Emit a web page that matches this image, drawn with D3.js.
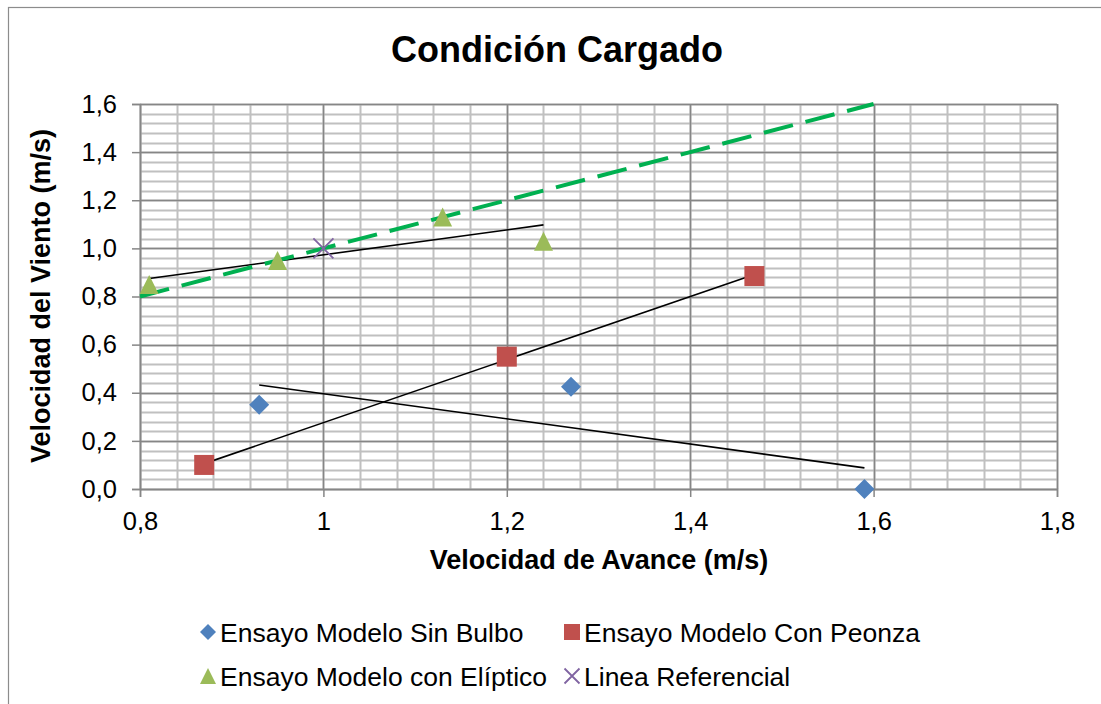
<!DOCTYPE html>
<html>
<head>
<meta charset="utf-8">
<script src="https://cdn.jsdelivr.net/npm/d3@7"></script>
<style>
  body { margin: 0; background: #fff; }
  text { font-family: "Liberation Sans", Arial, sans-serif; }
</style>
</head>
<body>
<svg id="chart" width="1101" height="704"></svg>
<script>
'use strict';

// data
var sinBulboX = [ 0.93, 1.27, 1.59 ],
    sinBulboY = [ 0.35, 0.425, 0.0 ];
var peonzaX = [ 0.87, 1.20, 1.47 ],
    peonzaY = [ 0.10, 0.55, 0.885 ];
var elipticoX = [ 0.81, 0.95, 1.13, 1.24 ],
    elipticoY = [ 0.85, 0.95, 1.13, 1.03 ];
var referenciaX = [ 1.0 ],
    referenciaY = [ 1.0 ];
var lineaIdealX = [ 0.8, 1.6 ],
    lineaIdealY = [ 0.8, 1.6 ];

var xTicks = [ 0.8, 1.0, 1.2, 1.4, 1.6, 1.8 ],
    yTicks = [ 0.0, 0.2, 0.4, 0.6, 0.8, 1.0, 1.2, 1.4, 1.6 ];

var series = [
    { name: 'Ensayo Modelo Sin Bulbo', xs: sinBulboX, ys: sinBulboY, shape: 'diamond', color: '#4f81bd' },
    { name: 'Ensayo Modelo Con Peonza', xs: peonzaX, ys: peonzaY, shape: 'square', color: '#c0504d' },
    { name: 'Ensayo Modelo con Elíptico', xs: elipticoX, ys: elipticoY, shape: 'triangle', color: '#9bbb59' },
    { name: 'Linea Referencial', xs: referenciaX, ys: referenciaY, shape: 'cross', color: '#8064a2' }
];

(function(){
    var svg = d3.select( '#chart' ),
        pLeft = 140, pRight = 1057, pTop = 104, pBottom = 489;

    var x = d3.scaleLinear().domain( [ 0.8, 1.8 ] ).range( [ pLeft, pRight ] ),
        y = d3.scaleLinear().domain( [ 0, 1.6 ] ).range( [ pBottom, pTop ] );

    // outer frame
    svg.append( 'rect' )
        .attr( 'x', 8.5 ).attr( 'y', 7.5 )
        .attr( 'width', 1100 ).attr( 'height', 710 )
        .attr( 'fill', 'none' ).attr( 'stroke', '#8c8c8c' ).attr( 'stroke-width', 1.2 );

    // grid
    var grid = svg.append( 'g' );
    var minorX = d3.range( 0.8, 1.8001, 0.04 ),
        minorY = d3.range( 0, 1.6001, 0.04 );

    grid.selectAll( 'line.mx' ).data( minorX ).enter().append( 'line' )
        .attr( 'x1', d => Math.round( x( d ) ) + 0.5 ).attr( 'x2', d => Math.round( x( d ) ) + 0.5 )
        .attr( 'y1', pTop ).attr( 'y2', pBottom )
        .attr( 'stroke', '#c0c0c0' ).attr( 'stroke-width', 2 );
    grid.selectAll( 'line.my' ).data( minorY ).enter().append( 'line' )
        .attr( 'y1', d => Math.round( y( d ) ) + 0.5 ).attr( 'y2', d => Math.round( y( d ) ) + 0.5 )
        .attr( 'x1', pLeft ).attr( 'x2', pRight )
        .attr( 'stroke', '#c0c0c0' ).attr( 'stroke-width', 2 );
    grid.selectAll( 'line.Mx' ).data( xTicks ).enter().append( 'line' )
        .attr( 'x1', d => Math.round( x( d ) ) + 0.5 ).attr( 'x2', d => Math.round( x( d ) ) + 0.5 )
        .attr( 'y1', pTop ).attr( 'y2', pBottom )
        .attr( 'stroke', '#868686' ).attr( 'stroke-width', 1.5 );
    grid.selectAll( 'line.My' ).data( yTicks ).enter().append( 'line' )
        .attr( 'y1', d => Math.round( y( d ) ) + 0.5 ).attr( 'y2', d => Math.round( y( d ) ) + 0.5 )
        .attr( 'x1', pLeft ).attr( 'x2', pRight )
        .attr( 'stroke', '#868686' ).attr( 'stroke-width', 1.5 );

    // axes
    var fmt1 = d => d3.format( '.1f' )( d ).replace( '.', ',' ),
        fmtX = d => d === 1 ? '1' : fmt1( d );

    var xAxis = svg.append( 'g' )
        .attr( 'transform', 'translate(0,' + pBottom + ')' )
        .call( d3.axisBottom( x ).tickValues( xTicks ).tickSize( 8 ).tickPadding( 15 ).tickFormat( fmtX ) );
    var yAxis = svg.append( 'g' )
        .attr( 'transform', 'translate(' + pLeft + ',0)' )
        .call( d3.axisLeft( y ).tickValues( yTicks ).tickSize( 8 ).tickPadding( 15 ).tickFormat( fmt1 ) );

    [ xAxis, yAxis ].forEach( function( a ){
        a.attr( 'font-size', null ).attr( 'font-family', null );
        a.selectAll( 'path,line' ).attr( 'stroke', '#868686' ).attr( 'stroke-width', 1.5 );
        a.selectAll( 'text' ).attr( 'fill', '#000' )
            .style( 'font-size', '25.5px' )
            .style( 'font-family', '"Liberation Sans", Arial, sans-serif' );
    });

    // trend lines (least squares of each series)
    function trend( xs, ys ){
        var mx = d3.mean( xs ), my = d3.mean( ys ),
            sxy = d3.sum( xs, ( v, i ) => ( v - mx ) * ( ys[i] - my ) ),
            sxx = d3.sum( xs, v => ( v - mx ) * ( v - mx ) ),
            m = sxy / sxx, b = my - m * mx,
            x0 = d3.min( xs ), x1 = d3.max( xs );
        return [ [ x0, m * x0 + b ], [ x1, m * x1 + b ] ];
    }

    var line = d3.line().x( d => x( d[0] ) ).y( d => y( d[1] ) );

    series.slice( 0, 3 ).forEach( function( s ){
        svg.append( 'path' )
            .attr( 'd', line( trend( s.xs, s.ys ) ) )
            .attr( 'fill', 'none' ).attr( 'stroke', '#000' ).attr( 'stroke-width', 1.6 );
    });

    // y = x dashed line
    svg.append( 'path' )
        .attr( 'd', line( d3.zip( lineaIdealX, lineaIdealY ) ) )
        .attr( 'fill', 'none' ).attr( 'stroke', '#00b050' )
        .attr( 'stroke-width', 4 ).attr( 'stroke-dasharray', '30,13' );

    // markers
    function marker( g, shape, color, size ){
        var h = size / 2;
        if ( shape === 'diamond' ){
            g.append( 'path' ).attr( 'd', 'M0,' + ( -h ) + 'L' + h + ',0L0,' + h + 'L' + ( -h ) + ',0Z' ).attr( 'fill', color );
        } else if ( shape === 'square' ){
            g.append( 'rect' ).attr( 'x', -h ).attr( 'y', -h ).attr( 'width', size ).attr( 'height', size ).attr( 'fill', color );
        } else if ( shape === 'triangle' ){
            g.append( 'path' ).attr( 'd', 'M0,' + ( -h ) + 'L' + h + ',' + h + 'L' + ( -h ) + ',' + h + 'Z' ).attr( 'fill', color );
        } else {
            g.append( 'path' ).attr( 'd', 'M' + ( -h ) + ',' + ( -h ) + 'L' + h + ',' + h + 'M' + ( -h ) + ',' + h + 'L' + h + ',' + ( -h ) )
                .attr( 'stroke', color ).attr( 'stroke-width', 1.8 ).attr( 'fill', 'none' );
        }
    }

    var sizes = { diamond: 20, square: 20, triangle: 19, cross: 20 };

    series.forEach( function( s ){
        var pts = d3.zip( s.xs, s.ys );
        svg.append( 'g' ).selectAll( 'g' ).data( pts ).enter().append( 'g' )
            .attr( 'transform', d => 'translate(' + x( d[0] ) + ',' + y( d[1] ) + ')' )
            .each( function(){ marker( d3.select( this ), s.shape, s.color, sizes[ s.shape ] ); } );
    });

    // texts
    svg.append( 'text' )
        .attr( 'x', 557 ).attr( 'y', 62 ).attr( 'text-anchor', 'middle' )
        .attr( 'font-size', 36 ).attr( 'font-weight', 'bold' ).text( 'Condición Cargado' );

    svg.append( 'text' )
        .attr( 'x', 599 ).attr( 'y', 569 ).attr( 'text-anchor', 'middle' )
        .attr( 'font-size', 27 ).attr( 'font-weight', 'bold' ).text( 'Velocidad de Avance (m/s)' );

    svg.append( 'text' )
        .attr( 'transform', 'translate(50,296) rotate(-90)' ).attr( 'text-anchor', 'middle' )
        .attr( 'font-size', 27 ).attr( 'font-weight', 'bold' ).text( 'Velocidad del Viento (m/s)' );

    // legend
    var legendPos = [ [ 208, 632 ], [ 572, 632 ], [ 208, 676 ], [ 572, 676 ] ];
    var legend = svg.append( 'g' ).selectAll( 'g' ).data( series ).enter().append( 'g' )
        .attr( 'transform', ( d, i ) => 'translate(' + legendPos[i][0] + ',' + legendPos[i][1] + ')' );

    legend.each( function( s ){
        marker( d3.select( this ), s.shape, s.color, s.shape === 'cross' ? 15 : 16 );
    });
    legend.append( 'text' )
        .attr( 'x', 12 ).attr( 'dy', '0.36em' ).attr( 'font-size', 26.5 )
        .text( d => d.name );
})();
</script>
</body>
</html>
